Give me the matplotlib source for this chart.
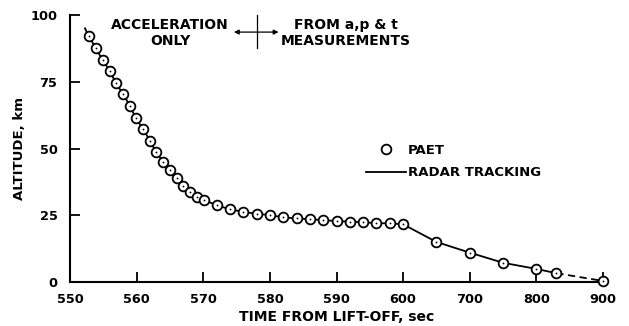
import numpy as np
import matplotlib
matplotlib.use("Agg")
import matplotlib.pyplot as plt
from matplotlib.lines import Line2D

# ---- data ----
paet_t = [552.8, 553.9, 554.9, 556.0, 556.9, 558.0, 559.0, 559.9, 561.0, 562.0,
          562.9, 564.0, 565.0, 566.0, 567.0, 568.0, 569.1, 570.1, 572.0, 574.0,
          576.0, 578.0, 580.0, 582.0, 584.0, 586.0, 588.0, 590.0, 592.0, 594.0,
          596.0, 598.0, 600.0, 650.0, 700.0, 750.0, 800.0, 830.0, 900.0]
paet_alt = [92.1, 87.5, 83.1, 79.0, 74.4, 70.3, 65.9, 61.3, 57.2, 52.9,
            48.8, 44.9, 41.9, 38.8, 36.1, 33.6, 32.0, 30.7, 28.8, 27.2,
            26.3, 25.5, 25.1, 24.2, 23.8, 23.5, 23.2, 22.8, 22.6, 22.4,
            22.0, 22.0, 21.6, 15.0, 11.0, 7.2, 4.9, 3.3, 0.4]

radar_t = [552.25] + paet_t[:-1]
radar_alt = [95.0] + paet_alt[:-1]
radar_ext_t = [830.0, 900.0]
radar_ext_alt = [3.3, 0.4]

xticks = [550, 560, 570, 580, 590, 600, 700, 800, 900]
yticks = [0, 25, 50, 75, 100]

boundary_t = 578.0
FONT = "DejaVu Sans"

plt.rcParams['font.family'] = [FONT]
plt.rcParams['font.weight'] = 'bold'

def fwd(x):
    x = np.asarray(x, dtype=float)
    return np.where(x <= 600, x, 600 + (x - 600) / 10.0)

def inv(y):
    y = np.asarray(y, dtype=float)
    return np.where(y <= 600, y, 600 + (y - 600) * 10.0)

fig = plt.figure(figsize=(6.29, 3.26), dpi=100)
ax = fig.add_axes([70/629, 1-282/326, (603-70)/629, (282-15)/326])
ax.set_xscale('function', functions=(fwd, inv))
ax.set_xlim(550, 900)
ax.set_ylim(0, 100)

ax.plot(radar_t, radar_alt, color='black', lw=1.3, zorder=2)
ax.plot(radar_ext_t, radar_ext_alt, color='black', lw=1.3, ls=(0, (4, 2.5)), zorder=2,
        clip_on=False)
ax.plot(paet_t, paet_alt, ls='none', marker='o', ms=7, mfc='white', mec='black',
        mew=1.3, zorder=3, clip_on=False)
ax.plot(paet_t, paet_alt, ls='none', marker='o', ms=1.3, mfc='black', mec='black',
        mew=0, zorder=4, clip_on=False)

for s in ['top', 'right']:
    ax.spines[s].set_visible(False)
for s in ['left', 'bottom']:
    ax.spines[s].set_linewidth(1.5)

ax.set_xticks(xticks)
ax.set_xticklabels([str(v) for v in xticks])
ax.set_yticks(yticks)
ax.set_yticklabels([str(v) for v in yticks])
ax.minorticks_off()
ax.tick_params(direction='in', length=7, width=1.3, labelsize=9.3, pad=8)
ax.tick_params(axis='y', pad=9)
for lab in ax.get_xticklabels() + ax.get_yticklabels():
    lab.set_fontweight('bold')

ax.set_xlabel("TIME FROM LIFT-OFF, sec", fontsize=10, fontweight='bold')
ax.xaxis.set_label_coords(0.50, -0.105)
ax.set_ylabel("ALTITUDE, km", fontsize=9.5, fontweight='bold')
ax.yaxis.set_label_coords(-0.094, 0.5)
ax.yaxis.label.set_va('center')

ax.text(565.0, 93.2, "ACCELERATION\nONLY", ha='center', va='center', fontsize=10,
        fontweight='bold', linespacing=1.15)
ax.text(591.4, 93.2, "FROM a,p & t\nMEASUREMENTS", ha='center', va='center', fontsize=10,
        fontweight='bold', linespacing=1.15)
ax.plot([boundary_t, boundary_t], [87.6, 100], color='black', lw=0.9, clip_on=False)
ax.annotate("", xy=(574.6, 93.6), xytext=(581.3, 93.6),
            arrowprops=dict(arrowstyle='<|-|>', color='black', lw=0.9,
                            mutation_scale=7, shrinkA=0, shrinkB=0))

handles = [Line2D([], [], ls='none', marker='o', ms=7, mfc='white', mec='black', mew=1.3),
           Line2D([], [], color='black', lw=1.3)]
leg = ax.legend(handles, ["PAET", "RADAR TRACKING"], loc='upper left',
                bbox_to_anchor=((366-70)/533, (282-144)/267), frameon=False,
                handlelength=3.0, handletextpad=0.2, borderpad=0, borderaxespad=0,
                labelspacing=0.7, prop={'size': 9.5, 'weight': 'bold'})

fig.savefig("out.png", dpi=100)
